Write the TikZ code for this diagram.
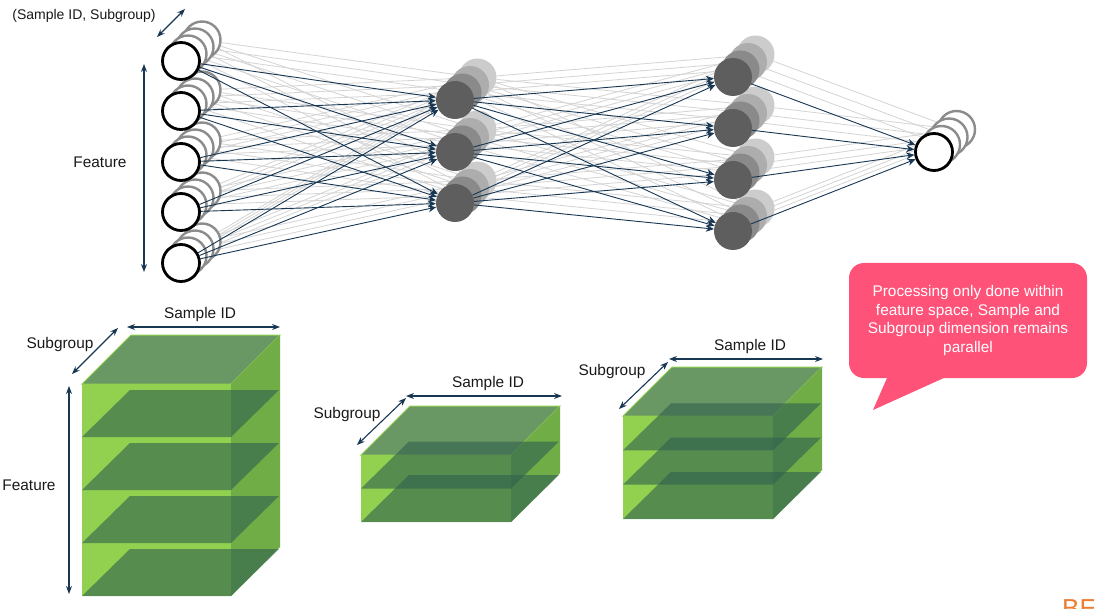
\documentclass[tikz,border=0pt]{standalone}
\usepackage{fontspec}
\setmainfont{Liberation Sans}
\usetikzlibrary{arrows.meta,backgrounds}
\definecolor{navy}{RGB}{23,55,83}
\definecolor{cubefront}{RGB}{146,208,80}
\definecolor{cubeside}{RGB}{112,173,71}
\definecolor{cubetop}{RGB}{106,152,100}
\definecolor{slab}{RGB}{46,96,78}
\definecolor{notepink}{RGB}{254,82,120}
\definecolor{logoorange}{RGB}{237,125,49}

\begin{document}
\begin{tikzpicture}[x=1pt,y=-1pt,
        inp/.style={circle, draw=black, line width=2.8pt, fill=white, minimum size=37pt, inner sep=0pt},
        inpback/.style={circle, draw=black!45, line width=2.4pt, fill=white, minimum size=37pt, inner sep=0pt},
        hid/.style={circle, fill=black!63, minimum size=38pt, inner sep=0pt},
        hidback/.style={circle, minimum size=38pt, inner sep=0pt},
        link/.style={black!17, line width=.8pt},
        conn/.style={navy, line width=.9pt, -{Stealth[length=8pt,width=7pt]}},
        dimarrow/.style={navy, line width=1.1pt, {Stealth[length=8pt,width=6pt]}-{Stealth[length=8pt,width=6pt]}},
        lbl/.style={font=\fontsize{15.4}{18.5}\selectfont, text=black!90, inner sep=0pt},
        note/.style={fill=notepink, text=white, rounded corners=15pt, align=center,
            minimum width=238pt, minimum height=115pt, font=\fontsize{15.4}{18.7}\selectfont}]
        \useasboundingbox (0,0) rectangle (1094,609);

        % cubes: front left, front right, top, bottom, slabs
        \foreach \xa/\xb/\ya/\yb/\n in {82/231/384/596/4, 361/511/455/522/2, 623/773/416/519/3} {
            \fill[cubetop, draw=cubefront, line width=1pt] (\xa,\ya) -- (\xb,\ya) -- (\xb+49,\ya-49) -- (\xa+49,\ya-49) -- cycle;
            \fill[cubeside] (\xb,\ya) -- (\xb+49,\ya-49) -- (\xb+49,\yb-49) -- (\xb,\yb) -- cycle;
            \fill[cubefront] (\xa,\ya) rectangle (\xb,\yb);
            \foreach \k in {1,...,\n} {
                \pgfmathsetmacro\ys{\ya+\k*(\yb-\ya)/\n}
                \fill[slab, opacity=.6] (\xa,\ys) -- (\xb,\ys) -- (\xb+48,\ys-47) -- (\xa+48,\ys-47) -- cycle;
            }
        }

        % network layers
        \foreach \d in {3,2,1}
            \foreach \n/\y in {1/61,2/111,3/162,4/212,5/263}
                \node[inpback] (in\n-\d) at (181+7*\d,\y-7*\d) {};
        \foreach \n/\y in {1/61,2/111,3/162,4/212,5/263}
            \node[inp] (in\n) at (181,\y) {};

        \foreach \d/\c in {3/black!20,2/black!32,1/black!46} {
            \foreach \n/\y in {1/100,2/152,3/203}
                \node[hidback, fill=\c] (ha\n-\d) at (455+7.5*\d,\y-7.5*\d) {};
            \foreach \n/\y in {1/77,2/128,3/180,4/231}
                \node[hidback, fill=\c] (hb\n-\d) at (733+7.5*\d,\y-7.5*\d) {};
        }
        \foreach \n/\y in {1/100,2/152,3/203}
            \node[hid] (ha\n) at (455,\y) {};
        \foreach \n/\y in {1/77,2/128,3/180,4/231}
            \node[hid] (hb\n) at (733,\y) {};

        \foreach \d in {3,2,1}
            \node[inpback] (out-\d) at (934+7.5*\d,152-7.5*\d) {};
        \node[inp] (out) at (934,152) {};

        \begin{scope}[on background layer]
            \fill[white] (0,0) rectangle (1094,609);
            \foreach \d in {1,2,3} {
                \foreach \a in {1,...,5} \foreach \b in {1,2,3} \draw[link] (in\a-\d) -- (ha\b-\d);
                \foreach \a in {1,2,3} \foreach \b in {1,...,4} \draw[link] (ha\a-\d) -- (hb\b-\d);
                \foreach \a in {1,...,4} \draw[link] (hb\a-\d) -- (out-\d);
            }
        \end{scope}

        \foreach \a in {1,...,5} \foreach \b in {1,2,3} \draw[conn] (in\a) -- (ha\b);
        \foreach \a in {1,2,3} \foreach \b in {1,...,4} \draw[conn] (ha\a) -- (hb\b);
        \foreach \a in {1,...,4} \draw[conn] (hb\a) -- (out);

        % dimension arrows and labels
        \draw[dimarrow] (157,37) -- (185,9);
        \draw[dimarrow] (144,64) -- (144,272);
        \node[lbl, font=\fontsize{14}{16}\selectfont] (netdims) at (84,16) {(Sample ID, Subgroup)};
        \node[lbl] (netfeat) at (100,162) {Feature};

        \draw[dimarrow] (127,327) -- (280,327);
        \draw[dimarrow] (72,374) -- (118,328);
        \draw[dimarrow] (69,386) -- (69,594);
        \node[lbl] (c1sample) at (200,315) {Sample ID};
        \node[lbl] (c1sub) at (60,345) {Subgroup};
        \node[lbl] (c1feat) at (29,485) {Feature};

        \draw[dimarrow] (406,396) -- (562,396);
        \draw[dimarrow] (357,445) -- (406,398);
        \node[lbl] (c2sample) at (488,384) {Sample ID};
        \node[lbl] (c2sub) at (347,415) {Subgroup};

        \draw[dimarrow] (669,359) -- (823,359);
        \draw[dimarrow] (619,409) -- (668,362);
        \node[lbl] (c3sample) at (750,347) {Sample ID};
        \node[lbl] (c3sub) at (612,372) {Subgroup};

        % callout
        \node[note] (remark) at (968,320.5) {Processing only done within\\feature space, Sample and\\Subgroup dimension remains\\parallel};
        \fill[notepink] ([xshift=39pt,yshift=2pt]remark.south west) -- (873,410) -- ([xshift=99pt,yshift=2pt]remark.south west) -- cycle;

        \node[anchor=north west, inner sep=0pt, text=logoorange, font=\fontsize{26}{30}\selectfont] (logo) at (1062,599) {BE};
    \end{tikzpicture}
\end{document}
